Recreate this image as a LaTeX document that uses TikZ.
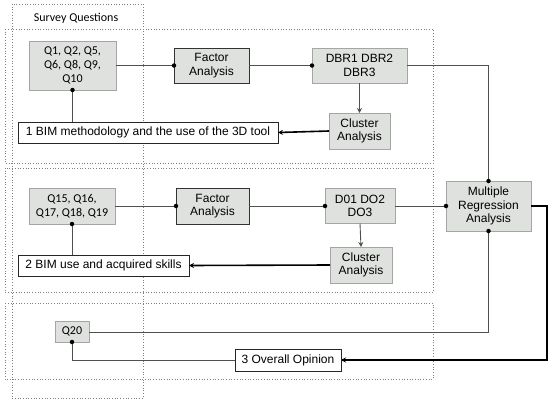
\documentclass[tikz,border=0pt]{standalone}
\usepackage{fontspec}
\setmainfont{Liberation Sans}
\newfontfamily\calfont{Carlito}
\usetikzlibrary{arrows.meta}
\definecolor{boxfill}{HTML}{DFE1DF}
\definecolor{boxline}{HTML}{A4A6A4}
\definecolor{conn}{HTML}{505050}
\definecolor{dotc}{HTML}{808080}
\tikzset{
  x=1pt,y=-1pt,
  every node/.style={inner sep=0pt,outer sep=0pt,align=center,font=\fontsize{12}{13.5}\selectfont},
  qbox/.style={draw=boxline,fill=boxfill,line width=0.8pt,font=\calfont\fontsize{12}{14}\selectfont},
  grey/.style={draw=boxline,fill=boxfill,line width=0.9pt},
  fbox/.style={draw=black!80,fill=boxfill,line width=0.9pt},
  wbox/.style={draw=black!85,fill=white,line width=0.8pt},
  grp/.style={draw=dotc,dotted,line width=0.7pt},
  link/.style={draw=conn,line width=0.9pt},
  tlink/.style={draw=black,line width=1.6pt},
  arr/.style={-{Stealth[length=5pt,width=5pt]}},
  dot/.style={circle,fill=black,minimum size=4.5pt,inner sep=0pt}
}
\begin{document}
\begin{tikzpicture}
\useasboundingbox (0,0) rectangle (550,402);
% group boxes
\draw[grp] (12,4) rectangle (143,398);
\draw[grp] (5,29) rectangle (433,163);
\draw[grp] (5,168) rectangle (433,292);
\draw[grp] (5,303) rectangle (433,379);
\node[font=\calfont\fontsize{12}{14}\selectfont] (sq) at (76,18) {Survey Questions};
% group 1
\node[qbox,minimum width=87,minimum height=49] (q1) at (72.5,65.5) {Q1, Q2, Q5,\\Q6, Q8, Q9,\\Q10};
\node[fbox,minimum width=75,minimum height=35] (f1) at (211.5,65.5) {Factor\\Analysis};
\node[grey,minimum width=95,minimum height=35] (dbr) at (359.5,65.5) {DBR1 DBR2\\DBR3};
\node[grey,minimum width=61,minimum height=36] (c1) at (359.5,131) {Cluster\\Analysis};
\node[wbox,minimum width=260,minimum height=21] (b1) at (148,132.5) {1 BIM methodology and the use of the 3D tool};
% group 2
\node[qbox,minimum width=86,minimum height=36] (q15) at (72,206) {Q15, Q16,\\Q17, Q18, Q19};
\node[fbox,minimum width=73,minimum height=36] (f2) at (212.5,206) {Factor\\Analysis};
\node[grey,minimum width=70,minimum height=35] (do) at (360,206) {D01 DO2\\DO3};
\node[grey,minimum width=62,minimum height=36] (c2) at (361,265) {Cluster\\Analysis};
\node[wbox,minimum width=171,minimum height=21] (b2) at (103.5,265.5) {2 BIM use and acquired skills};
% MRA
\node[grey,minimum width=85,minimum height=50] (mra) at (488.5,206) {Multiple\\Regression\\Analysis};
% group 3
\node[qbox,minimum width=34,minimum height=21] (q20) at (72,331.5) {Q20};
\node[wbox,minimum width=106,minimum height=22] (oo) at (288,360) {3 Overall Opinion};
\coordinate (k1) at (488.5,65.5);
\coordinate (k2) at (488.5,332);
\coordinate (k3) at (547,206);
\coordinate (k4) at (547,360);
\coordinate (k5) at (72,360);
% connectors group 1
\draw[link] (q1.south) -- (q1.south |- b1.north);
\draw[link] (q1.east |- f1.west) -- (f1.west);
\draw[link] (f1.east) -- (dbr.west);
\draw[link,arr] (dbr.south) -- (c1.north);
\draw[tlink,arr] (c1.west) -- (b1.east);
\draw[link] (dbr.east) -- (k1) -- (mra.north);
% group 2
\draw[link] (q15.south) -- (q15.south |- b2.north);
\draw[link] (q15.east) -- (f2.west);
\draw[link] (f2.east) -- (do.west);
\draw[link,arr] (do.south) -- (c2.north);
\draw[tlink,arr] (c2.west) -- (b2.east);
\draw[link] (do.east) -- (mra.west);
% group 3
\draw[link] (q20.east |- k2) -- (k2) -- (mra.south);
\draw[tlink,arr] (mra.east) -- (k3) -- (k4) -- (oo.east);
\draw[link] (oo.west) -- (k5) -- (q20.south);
% dots
\node[dot] (d1) at (q1.south) {};
\node[dot] (d2) at (f1.west) {};
\node[dot] (d3) at (dbr.west) {};
\node[dot] (d4) at (q15.south) {};
\node[dot] (d5) at (f2.west) {};
\node[dot] (d6) at (do.west) {};
\node[dot] (d7) at (mra.north) {};
\node[dot] (d8) at (mra.west) {};
\node[dot] (d9) at (mra.south) {};
\node[dot] (d10) at (q20.south) {};
\end{tikzpicture}
\end{document}
